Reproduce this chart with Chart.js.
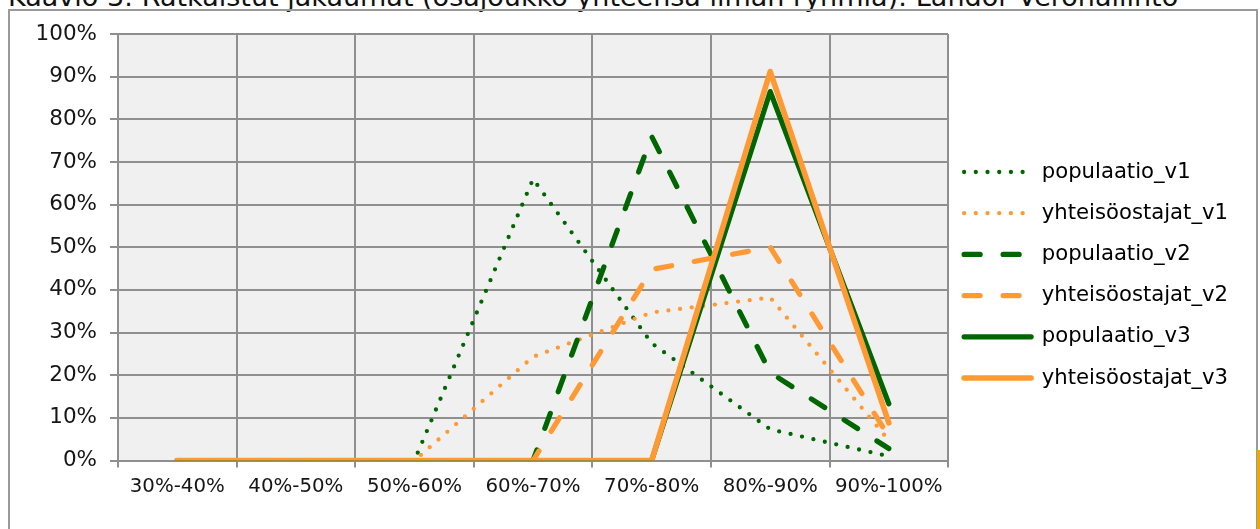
<!DOCTYPE html>
<html lang="fi">
<head>
    <meta charset="UTF-8">
    <title>Kaavio 3</title>
    <script src="https://cdn.jsdelivr.net/npm/chart.js"></script>
    <style>
        html, body {
            margin: 0;
            padding: 0;
            width: 1260px;
            height: 529px;
            overflow: hidden;
            background: #ffffff;
            font-family: 'DejaVu Sans', Verdana, sans-serif;
        }
        .caption {
            position: absolute;
            left: 8px;
            top: -17px;
            font-size: 27px;
            line-height: 1;
            color: #111;
            white-space: nowrap;
        }
        .frame {
            position: absolute;
            left: 8px;
            top: 9px;
            width: 1246px;
            height: 540px;
            border: 2px solid #9a9a9a;
        }
        .edge {
            position: absolute;
            left: 1257px;
            top: 450px;
            width: 3px;
            height: 79px;
            background: #f0a500;
        }
        #chart-wrap {
            position: absolute;
            left: 0;
            top: 0;
            width: 1260px;
            height: 529px;
        }
    </style>
</head>
<body>
    <div class="caption">Kaavio 3: Ratkaistut jakaumat (osajoukko yhteensä ilman ryhmiä): Landor Verohallinto</div>
    <div class="frame"></div>
    <div class="edge"></div>
    <div id="chart-wrap"><canvas id="distChart" width="1260" height="529"></canvas></div>

    <script>
        // luokat ja jakaumat prosentteina
        const categories = ['30%-40%', '40%-50%', '50%-60%', '60%-70%', '70%-80%', '80%-90%', '90%-100%'];
        const populaatio_v1 = [0, 0, 0, 66, 27.5, 7.3, 1];
        const yhteisoostajat_v1 = [0, 0, 0, 24.3, 34.7, 38.2, 4.7];
        const populaatio_v2 = [0, 0, 0, 0, 76, 20.6, 2.8];
        const yhteisoostajat_v2 = [0, 0, 0, 0, 44.8, 50, 5.6];
        const populaatio_v3 = [0, 0, 0, 0, 0, 86.5, 13.3];
        const yhteisoostajat_v3 = [0, 0, 0, 0, 0, 91.2, 8.8];
        const yTicks = [0, 10, 20, 30, 40, 50, 60, 70, 80, 90, 100];

        const GREEN = '#006600';
        const ORANGE = '#ff9933';
        const GRID = '#8f8f8f';
        const TEXT = '#161616';
        const FONT = "'DejaVu Sans', Verdana, sans-serif";

        const DOTS = [0, 11.7];
        const DASHES = [16, 23];

        function series(label, data, color, width, dash, order) {
            return {
                label: label,
                data: data,
                borderColor: color,
                backgroundColor: color,
                borderWidth: width,
                borderDash: dash,
                borderCapStyle: 'round',
                borderJoinStyle: 'round',
                pointRadius: 0,
                pointHoverRadius: 0,
                tension: 0,
                fill: false,
                order: order
            };
        }

        // harmaa tausta piirtoalueelle
        const plotBackground = {
            id: 'plotBackground',
            beforeDraw(chart) {
                const { ctx, chartArea } = chart;
                ctx.save();
                ctx.fillStyle = '#f0f0f0';
                ctx.fillRect(chartArea.left, chartArea.top, chartArea.right - chartArea.left, chartArea.bottom - chartArea.top);
                ctx.restore();
            }
        };

        // selite hieman lähemmäs piirtoaluetta
        const legendNudge = {
            id: 'legendNudge',
            afterLayout(chart) {
                chart.legend.left -= 4;
                chart.legend.right -= 4;
            }
        };

        const ctx = document.getElementById('distChart').getContext('2d');
        new Chart(ctx, {
            type: 'line',
            data: {
                labels: categories,
                datasets: [
                    series('populaatio_v1', populaatio_v1, GREEN, 4.3, DOTS, 5),
                    series('yhteisöostajat_v1', yhteisoostajat_v1, ORANGE, 4.3, DOTS, 4),
                    series('populaatio_v2', populaatio_v2, GREEN, 5.2, DASHES, 3),
                    series('yhteisöostajat_v2', yhteisoostajat_v2, ORANGE, 5.2, DASHES, 2),
                    series('populaatio_v3', populaatio_v3, GREEN, 5.2, [], 1),
                    series('yhteisöostajat_v3', yhteisoostajat_v3, ORANGE, 5.6, [], 0)
                ]
            },
            options: {
                responsive: false,
                animation: false,
                layout: {
                    padding: { left: 0, right: 18, top: 34, bottom: 13 }
                },
                plugins: {
                    legend: {
                        position: 'right',
                        labels: {
                            usePointStyle: true,
                            pointStyleWidth: 67,
                            boxHeight: 6,
                            padding: 20,
                            color: TEXT,
                            font: { family: FONT, size: 21.2 },
                            generateLabels(chart) {
                                return chart.data.datasets.map((ds, i) => ({
                                    text: ds.label,
                                    fillStyle: ds.borderColor,
                                    strokeStyle: ds.borderColor,
                                    lineWidth: ds.borderWidth,
                                    lineDash: ds.borderDash,
                                    lineCap: ds.borderCapStyle,
                                    pointStyle: 'line',
                                    hidden: false,
                                    datasetIndex: i
                                }));
                            }
                        }
                    },
                    tooltip: { enabled: false }
                },
                scales: {
                    x: {
                        offset: true,
                        grid: {
                            offset: true,
                            color: GRID,
                            lineWidth: 2,
                            tickLength: 7
                        },
                        border: { color: GRID, width: 2 },
                        ticks: {
                            color: TEXT,
                            padding: 7.5,
                            maxRotation: 0,
                            font: { family: FONT, size: 19.8 }
                        },
                        afterFit(scale) { scale.height = 55.5; }
                    },
                    y: {
                        min: 0,
                        max: 100,
                        afterBuildTicks(scale) {
                            scale.ticks = yTicks.map(v => ({ value: v }));
                        },
                        grid: {
                            color: GRID,
                            lineWidth: 2,
                            tickLength: 8
                        },
                        border: { color: GRID, width: 2 },
                        ticks: {
                            color: TEXT,
                            padding: 13,
                            font: { family: FONT, size: 21.5 },
                            callback: v => v + '%'
                        },
                        afterFit(scale) { scale.width = 118; }
                    }
                }
            },
            plugins: [plotBackground, legendNudge]
        });
    </script>
</body>
</html>
